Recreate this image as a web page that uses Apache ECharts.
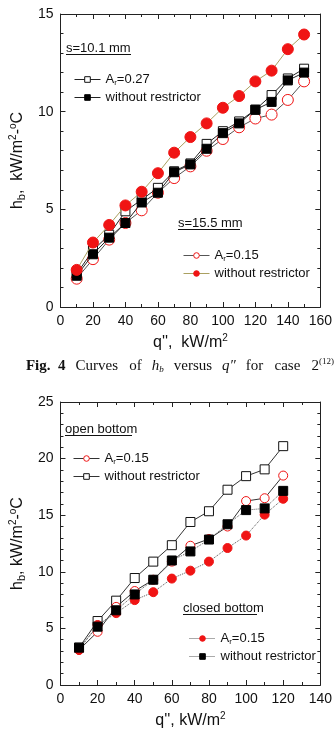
<!DOCTYPE html>
<html>
<head>
<meta charset="utf-8">
<script src="https://cdn.jsdelivr.net/npm/echarts@6/dist/echarts.min.js"></script>
<style>
  html, body { margin: 0; padding: 0; background: #fff; }
  #chart { width: 335px; height: 735px; }
</style>
</head>
<body>
<div id="chart"></div>
<script>
// Fig. 4 (case 2), heat flux q'' in kW/m2
var q4 = [10, 20, 30, 40, 50, 60, 70, 80, 90, 100, 110, 120, 130, 140, 150];
var s101Ar027 = [1.7, 2.9, 3.7, 4.9, 5.5, 6.1, 6.95, 7.35, 8.35, 9.0, 9.5, 10.1, 10.85, 11.7, 12.2];
var s101NoRestr = [1.6, 2.7, 3.55, 4.3, 5.35, 5.85, 6.9, 7.3, 8.1, 8.9, 9.4, 10.1, 10.5, 11.6, 12.0];
var s155Ar015 = [1.45, 2.45, 3.45, 4.3, 4.95, 5.85, 6.6, 7.2, 8.0, 8.6, 9.2, 9.65, 9.85, 10.6, 11.55];
var s155NoRestr = [1.9, 3.3, 4.2, 5.2, 5.9, 6.85, 7.9, 8.7, 9.4, 10.2, 10.8, 11.55, 12.1, 13.2, 13.95];

// Fig. 5 (case 3)
var q5 = [10, 20, 30, 40, 50, 60, 70, 80, 90, 100, 110, 120];
var openAr015 = [3.1, 4.7, 6.9, 8.3, 9.3, 10.9, 12.3, 12.9, 14.0, 16.25, 16.5, 18.5];
var openNoRestr = [3.3, 5.65, 7.45, 9.45, 10.9, 12.35, 14.4, 15.35, 17.25, 18.45, 19.05, 21.1];
var closedAr015 = [3.1, 5.3, 6.35, 7.5, 8.2, 9.4, 10.1, 10.9, 12.1, 13.2, 15.05, 16.45];
var closedNoRestr = [3.3, 5.15, 6.6, 8.0, 9.3, 11.0, 11.8, 12.85, 14.2, 15.45, 15.6, 17.15];

var xTicks4 = { min: 0, max: 160, interval: 20 };
var yTicks4 = { min: 0, max: 15, interval: 5 };
var xTicks5 = { min: 0, max: 140, interval: 20 };
var yTicks5 = { min: 0, max: 25, interval: 5 };

var RED = '#f01414';
var FONT = 'Liberation Sans, Arial, sans-serif';
var SERIF = 'Liberation Serif, Times New Roman, serif';

var legendLabels = {
  a: '{t|A}{s|r}{t|=0.27}',
  b: '{t|without restrictor}',
  c: '{t|A}{s|r}{t|=0.15}',
  d: '{t|without restrictor}',
  e: '{t|A}{s|r}{t|=0.15}',
  f: '{t|without restrictor}',
  g: '{t|A}{s|r}{t|=0.15}',
  h: '{t|without restrictor}'
};

function pairs(xs, ys) {
  return xs.map(function(x, i) { return [x, ys[i]]; });
}

function frameAxes(dim, gridIndex, ticks, minorSplit) {
  var base = {
    type: 'value',
    gridIndex: gridIndex,
    min: ticks.min,
    max: ticks.max,
    interval: ticks.interval,
    splitLine: { show: false },
    axisLine: { show: true, onZero: false, lineStyle: { color: '#222', width: 1 } },
    axisTick: { show: true, inside: true, length: 5, lineStyle: { color: '#222' } },
    minorTick: { show: true, splitNumber: minorSplit, length: 3, lineStyle: { color: '#222' } },
    minorSplitLine: { show: false }
  };
  var main = Object.assign({}, base, {
    position: dim === 'x' ? 'bottom' : 'left',
    axisLabel: { color: '#111', fontSize: 14, fontFamily: FONT, margin: 7 }
  });
  var other = Object.assign({}, base, {
    position: dim === 'x' ? 'top' : 'right',
    axisLabel: { show: false }
  });
  return [main, other];
}

var axisNameRich = {
  t: { fontSize: 16, fontFamily: FONT, color: '#111' },
  s: { fontSize: 11, fontFamily: FONT, color: '#111', padding: [8, 0, 0, 0] },
  p: { fontSize: 10, fontFamily: FONT, color: '#111', padding: [0, 0, 9, 0] }
};

var x4 = frameAxes('x', 0, xTicks4, 2);
x4[0].name = "{t|q'',  kW/m}{p|2}";
x4[0].nameLocation = 'middle';
x4[0].nameGap = 26;
x4[0].nameTextStyle = { rich: axisNameRich };
var y4 = frameAxes('y', 0, yTicks4, 5);
y4[0].name = '{t|h}{s|b}{t|,  kW/m}{p|2}{t|-}{p|o}{t|C}';
y4[0].nameLocation = 'middle';
y4[0].nameRotate = 90;
y4[0].nameGap = 31;
y4[0].nameTextStyle = { rich: axisNameRich };

var x5 = frameAxes('x', 1, xTicks5, 2);
x5[0].name = "{t|q'', kW/m}{p|2}";
x5[0].nameLocation = 'middle';
x5[0].nameGap = 26;
x5[0].nameTextStyle = { rich: axisNameRich };
var y5 = frameAxes('y', 1, yTicks5, 5);
y5[0].name = '{t|h}{s|b}{t|, kW/m}{p|2}{t|-}{p|o}{t|C}';
y5[0].nameLocation = 'middle';
y5[0].nameRotate = 90;
y5[0].nameGap = 31;
y5[0].nameTextStyle = { rich: axisNameRich };

function lineSeries(name, xi, yi, data, symbol, size, fill, border, lineColor, lineType, z) {
  return {
    name: name,
    type: 'line',
    xAxisIndex: xi,
    yAxisIndex: yi,
    data: data,
    symbol: symbol,
    symbolSize: size,
    showAllSymbol: true,
    z: z,
    itemStyle: { color: fill, borderColor: border, borderWidth: 1 },
    lineStyle: { color: lineColor, width: 1, type: lineType },
    emphasis: { disabled: true },
    animation: false
  };
}

var legendText = {
  color: '#111',
  fontFamily: FONT,
  rich: {
    t: { fontSize: 13, fontFamily: FONT, color: '#111' },
    s: { fontSize: 8, fontFamily: FONT, color: '#111', padding: [7, 0, 0, 0] }
  }
};

function legendBox(names, left, top) {
  return {
    data: names,
    orient: 'vertical',
    left: left,
    top: top,
    padding: 0,
    itemWidth: 26,
    itemHeight: 7,
    itemGap: 4,
    selectedMode: false,
    lineStyle: { width: 1 },
    itemStyle: { borderWidth: 1 },
    textStyle: legendText,
    formatter: function(n) { return legendLabels[n]; }
  };
}

function underlined(text, x, y, w) {
  return [
    { type: 'text', x: x, y: y, style: { text: text, font: '13px ' + FONT, fill: '#111', textVerticalAlign: 'middle' } },
    { type: 'line', shape: { x1: x, y1: y + 6.5, x2: x + w, y2: y + 6.5 }, style: { stroke: '#111', lineWidth: 1 } }
  ];
}

var capRich = {
  b: { fontFamily: SERIF, fontSize: 15, fontWeight: 'bold', fill: '#111' },
  n: { fontFamily: SERIF, fontSize: 15, fill: '#111' },
  i: { fontFamily: SERIF, fontSize: 15, fontStyle: 'italic', fill: '#111' },
  is: { fontFamily: SERIF, fontSize: 9, fontStyle: 'italic', fill: '#111', padding: [8, 0, 0, 0] },
  sp: { fontFamily: SERIF, fontSize: 9, fill: '#111', padding: [0, 0, 8, 0] }
};

var option = {
  backgroundColor: '#fff',
  animation: false,
  grid: [
    { left: 50, right: 12, top: 14, height: 293 },
    { left: 49, right: 13, top: 402, height: 283 }
  ],
  xAxis: [x4[0], x4[1], x5[0], x5[1]],
  yAxis: [y4[0], y4[1], y5[0], y5[1]],
  legend: [
    legendBox(['a', 'b'], 74, 73),
    legendBox(['c', 'd'], 183, 249),
    legendBox(['e', 'f'], 73, 452),
    legendBox(['g', 'h'], 189, 632)
  ],
  series: [
    lineSeries('c', 0, 0, pairs(q4, s155Ar015), 'circle', 11, '#fff', RED, '#555', 'solid', 2),
    lineSeries('a', 0, 0, pairs(q4, s101Ar027), 'rect', 9, '#fff', '#111', '#222', 'solid', 3),
    lineSeries('b', 0, 0, pairs(q4, s101NoRestr), 'rect', 9, '#000', '#000', '#222', 'solid', 4),
    lineSeries('d', 0, 0, pairs(q4, s155NoRestr), 'circle', 11, RED, RED, '#aaa060', 'solid', 5),

    lineSeries('f', 2, 2, pairs(q5, openNoRestr), 'rect', 9, '#fff', '#111', '#333', 'solid', 2),
    lineSeries('e', 2, 2, pairs(q5, openAr015), 'circle', 9, '#fff', RED, '#333', 'solid', 3),
    lineSeries('g', 2, 2, pairs(q5, closedAr015), 'circle', 9, RED, RED, '#555', 'dotted', 4),
    lineSeries('h', 2, 2, pairs(q5, closedNoRestr), 'rect', 9, '#000', '#000', '#555', 'dotted', 5)
  ],
  graphic: [].concat(
    underlined('s=10.1 mm', 66, 48, 65),
    underlined('s=15.5 mm', 178, 223, 62),
    underlined('open bottom', 65, 429, 67),
    underlined('closed bottom', 183, 608, 74),
    [
      {
        type: 'text', x: 180, y: 366,
        style: {
          text: '{b|Fig.  4}   {n|Curves   of}   {i|h}{is|b}   {n|versus}   {i|q\u2033}   {n|for   case   2}{sp|(12)}',
          textAlign: 'center', textVerticalAlign: 'middle',
          rich: capRich
        }
      },
      {
        type: 'text', x: 175, y: 742,
        style: {
          text: '{b|Fig.  5}   {n|Curves   of   the}   {i|h}{is|b}   {n|versus}   {i|q\u2033}   {n|for   case   3}',
          textAlign: 'center', textVerticalAlign: 'middle',
          rich: capRich
        }
      }
    ]
  )
};

var chart = echarts.init(document.getElementById('chart'), null, { renderer: 'canvas' });
chart.setOption(option);
</script>
</body>
</html>
